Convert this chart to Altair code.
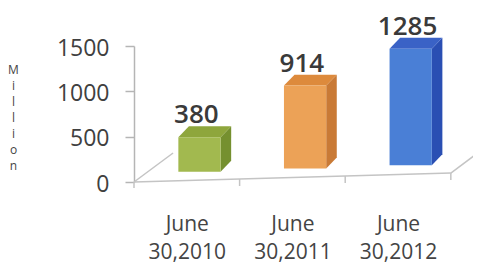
import json
import altair as alt
import pandas as pd

# ---- data ----
categories = ["June 30,2010", "June 30,2011", "June 30,2012"]
values = [380, 914, 1285]
y_ticks = [0, 500, 1000, 1500]
axis_title_letters = list("Million")

# ---- styles ----
front_colors = ["#a2b94f", "#eca257", "#4a7fd6"]
top_colors = ["#8ea63c", "#dd8a3c", "#3a62c6"]
side_colors = ["#75902f", "#c97a36", "#2a4fb3"]
FONT = "Open Sans"

# ---- pseudo-3D geometry (in scale units) ----
C = 0.12      # front face centre offset from band centre
HW = 0.20     # half width of front face
DX = 0.10     # depth along x
DY = 121      # depth along y (value units)
B0, BS = 113, 36  # base of front face (perspective)
TILT = 33     # floor tilt per category

xscale = alt.Scale(domain=[-0.5, 2.71], nice=False, zero=False)
yscale = alt.Scale(domain=[0, 1500], nice=False, zero=False)

n = len(categories)
x_axis = alt.Axis(
    values=list(range(n)),
    labelExpr=f"split({json.dumps(categories)}[datum.value], ' ')",
    domain=False, ticks=False, grid=False, title=None,
    labelFont=FONT, labelFontSize=21, labelColor="#444",
    labelLineHeight=28, labelBaseline="top", labelPadding=31,
    labelFlush=False, labelOverlap=False,
)
y_axis = alt.Axis(
    values=y_ticks, format="d", grid=False, domainColor="#b5b5b5", domainWidth=1.5,
    tickColor="#b5b5b5", tickSize=9, tickWidth=1.5,
    labelFont=FONT, labelFontSize=23, labelColor="#404040",
    labelPadding=16, labelOffset=2, labelFlush=False, labelOverlap=False,
    title=axis_title_letters, titleAngle=0, titleFont=FONT, titleFontSize=12,
    titleFontWeight="normal", titleColor="#444", titleLineHeight=16,
    titleX=-121, titleY=18, titleBaseline="top", titleAlign="center",
)

bars = pd.DataFrame({"idx": range(n), "cat": categories, "value": values})
bars["base"] = B0 + BS * bars["idx"]
bars["x0"] = bars["idx"] + C - HW
bars["x1"] = bars["idx"] + C + HW
bars["y0"] = bars["base"]
bars["y1"] = bars["base"] + bars["value"]
bars["lx"] = bars["idx"] + 0.09
bars["ly"] = bars["y1"] + DY

side_rows, top_rows = [], []
for i, (cat, v) in enumerate(zip(categories, values)):
    base = B0 + BS * i
    top = base + v
    xl, xr = i + C - HW, i + C + HW
    side_rows += [
        {"cat": cat, "x": xr, "lo": base, "hi": top},
        {"cat": cat, "x": xr + DX, "lo": base + DY, "hi": top + DY},
    ]
    top_rows += [
        {"cat": cat, "x": xl, "lo": top, "hi": top},
        {"cat": cat, "x": xl + DX, "lo": top, "hi": top + DY},
        {"cat": cat, "x": xr, "lo": top, "hi": top + DY},
        {"cat": cat, "x": xr + DX, "lo": top + DY, "hi": top + DY},
    ]
side_df = pd.DataFrame(side_rows)
top_df = pd.DataFrame(top_rows)

floor_df = pd.DataFrame([
    {"x": -0.5, "x2": n - 0.5, "y": 0, "y2": TILT * n},
    {"x": -0.5, "x2": -0.13, "y": 0, "y2": 320},
    {"x": n - 0.5, "x2": n - 0.5 + 0.37, "y": TILT * n, "y2": TILT * n + 320},
    {"x": -0.5, "x2": -0.5, "y": 0, "y2": -66},
] + [
    {"x": k + 0.5, "x2": k + 0.5, "y": TILT * (k + 1), "y2": TILT * (k + 1) - 77}
    for k in range(n)
])

floor = alt.Chart(floor_df).mark_rule(color="#c4c4c4", strokeWidth=1.5).encode(
    x=alt.X("x:Q", scale=xscale, axis=x_axis),
    x2="x2:Q",
    y=alt.Y("y:Q", scale=yscale, axis=y_axis),
    y2="y2:Q",
)

front = alt.Chart(bars).mark_bar(clip=False).encode(
    x=alt.X("x0:Q", scale=xscale, axis=x_axis),
    x2="x1:Q",
    y=alt.Y("y0:Q", scale=yscale, axis=y_axis),
    y2="y1:Q",
    color=alt.Color("cat:N", scale=alt.Scale(domain=categories, range=front_colors), legend=None),
)

side = alt.Chart(side_df).mark_area(clip=False).encode(
    x=alt.X("x:Q", scale=xscale, axis=x_axis),
    y=alt.Y("hi:Q", scale=yscale, axis=y_axis, stack=None),
    y2="lo:Q",
    detail="cat:N",
    fill=alt.Fill("cat:N", scale=alt.Scale(domain=categories, range=side_colors), legend=None),
)

topf = alt.Chart(top_df).mark_area(clip=False).encode(
    x=alt.X("x:Q", scale=xscale, axis=x_axis),
    y=alt.Y("hi:Q", scale=yscale, axis=y_axis, stack=None),
    y2="lo:Q",
    detail="cat:N",
    fill=alt.Fill("cat:N", scale=alt.Scale(domain=categories, range=top_colors), legend=None),
)

labels = alt.Chart(bars).mark_text(
    font=FONT, fontSize=26, fontWeight=600, color="#3a3a3a",
    baseline="alphabetic", align="center", dy=-3,
).encode(
    x=alt.X("lx:Q", scale=xscale, axis=x_axis),
    y=alt.Y("ly:Q", scale=yscale, axis=y_axis),
    text=alt.Text("value:Q", format="d"),
)

chart = alt.layer(floor, side, topf, front, labels).resolve_scale(
    color="independent", fill="independent"
).properties(
    width=339, height=136,
    padding={"left": 126, "top": 38, "right": 0, "bottom": 82},
    autosize=alt.AutoSizeParams(type="none"),
    background="white",
).configure_view(stroke=None)

chart.save("out.html", embed_options={"renderer": "svg", "actions": False})
